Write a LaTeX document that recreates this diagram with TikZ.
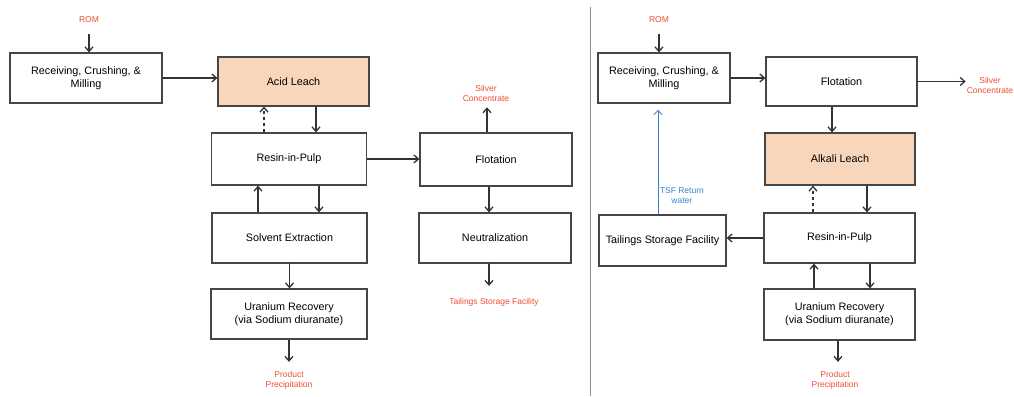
\documentclass[tikz,border=0pt]{standalone}
\usepackage{fontspec}
\setmainfont{Liberation Sans}
\usetikzlibrary{arrows.meta}
\definecolor{leach}{RGB}{248,214,188}
\definecolor{outred}{RGB}{238,78,48}
\definecolor{wblue}{RGB}{58,128,210}
\definecolor{boxline}{RGB}{70,70,70}

\begin{document}
\begin{tikzpicture}[x=1pt,y=-1pt,
  >={Straight Barb[length=4.5pt,width=8pt]},
  blk/.style={draw=boxline,line width=1.3pt,rectangle,align=center,font=\fontsize{10.8}{13}\selectfont},
  outlbl/.style={text=outred,align=center,inner sep=1pt,font=\fontsize{8.5}{10}\selectfont},
  flow/.style={->,line width=1.3pt,draw=black!80}]
\useasboundingbox (0,0) rectangle (1014,396);
% acid leach circuit
\node[outlbl] (rom1) at (89,20) {ROM};
\node[blk,minimum width=152pt,minimum height=50pt] (rcm1) at (86,78) {Receiving, Crushing, \&\\Milling};
\node[blk,fill=leach,minimum width=151pt,minimum height=49pt] (acid) at (293.5,81.5) {Acid Leach};
\node[blk,minimum width=155pt,minimum height=52pt] (rip1) at (289,159) {Resin-in-Pulp};
\node[blk,minimum width=152pt,minimum height=53pt] (flot1) at (496,159.5) {Flotation};
\node[blk,minimum width=155pt,minimum height=50pt] (sx) at (289.5,238) {Solvent Extraction};
\node[blk,minimum width=152pt,minimum height=50pt] (neut) at (495,238) {Neutralization};
\node[blk,minimum width=156pt,minimum height=50pt] (ur1) at (289,314) {Uranium Recovery\\(via Sodium diuranate)};
\node[outlbl] (pp1) at (289,380) {Product\\Precipitation};
\node[outlbl] (tsf1) at (494,302) {Tailings Storage Facility};
\node[outlbl] (sc1) at (486,93) {Silver\\Concentrate};
\draw[flow,shorten <=10pt] (rom1.south) -- (rom1.south |- rcm1.north);
\draw[flow] (rcm1.east) -- (rcm1.east -| acid.west);
\draw[flow,dashed] ([xshift=-25pt]rip1.north) -- ([xshift=-25pt]rip1.north |- acid.south);
\draw[flow] ([xshift=22.5pt]acid.south) -- ([xshift=22.5pt]acid.south |- rip1.north);
\draw[flow] (rip1.east) -- (rip1.east -| flot1.west);
\draw[flow] ([xshift=-31.5pt]sx.north) -- ([xshift=-31.5pt]sx.north |- rip1.south);
\draw[flow] ([xshift=30pt]rip1.south) -- ([xshift=30pt]rip1.south |- sx.north);
\draw[flow] (sx.south) -- (sx.south |- ur1.north);
\draw[flow,shorten >=8pt] (ur1.south) -- (ur1.south |- pp1.north);
\draw[flow,shorten >=5pt] ([xshift=-9pt]flot1.north) -- ([xshift=-9pt]flot1.north |- sc1.south);
\draw[flow] ([xshift=-7pt]flot1.south) -- ([xshift=-7pt]flot1.south |- neut.north);
\draw[flow,shorten >=11pt] ([xshift=-6pt]neut.south) -- ([xshift=-6pt]neut.south |- tsf1.north);
\draw[black!45,line width=1pt] (590,7) -- (590,396);
% alkali leach circuit
\node[outlbl] (rom2) at (659,20) {ROM};
\node[blk,minimum width=132pt,minimum height=50pt] (rcm2) at (664,78) {Receiving, Crushing, \&\\Milling};
\node[blk,minimum width=151pt,minimum height=49pt] (flot2) at (841.5,81.5) {Flotation};
\node[outlbl] (sc2) at (990,85) {Silver\\Concentrate};
\node[blk,fill=leach,minimum width=150pt,minimum height=52pt] (alk) at (840,159) {Alkali Leach};
\node[blk,minimum width=151pt,minimum height=50pt] (rip2) at (839.5,238) {Resin-in-Pulp};
\node[blk,minimum width=127pt,minimum height=51pt] (tsf2) at (662.5,240.5) {Tailings Storage Facility};
\node[blk,minimum width=151pt,minimum height=51pt] (ur2) at (839.5,314.5) {Uranium Recovery\\(via Sodium diuranate)};
\node[outlbl] (pp2) at (835,380) {Product\\Precipitation};
\draw[flow,shorten <=10pt] (rom2.south) -- (rom2.south |- rcm2.north);
\draw[flow] (rcm2.east) -- (rcm2.east -| flot2.west);
\draw[flow] (flot2.east) -- (flot2.east -| sc2.west);
\draw[flow] ([xshift=-9.5pt]flot2.south) -- ([xshift=-9.5pt]flot2.south |- alk.north);
\draw[flow,dashed] ([xshift=-26.5pt]rip2.north) -- ([xshift=-26.5pt]rip2.north |- alk.south);
\draw[flow] ([xshift=27pt]alk.south) -- ([xshift=27pt]alk.south |- rip2.north);
\draw[flow] (rip2.west) -- (rip2.west -| tsf2.east);
\draw[flow] ([xshift=-25.5pt]ur2.north) -- ([xshift=-25.5pt]ur2.north |- rip2.south);
\draw[flow] ([xshift=30.5pt]rip2.south) -- ([xshift=30.5pt]rip2.south |- ur2.north);
\draw[flow,shorten >=8pt] ([xshift=-1.5pt]ur2.south) -- ([xshift=-1.5pt]ur2.south |- pp2.north);
\draw[flow,draw=wblue,line width=0.8pt,shorten >=6pt] ([xshift=-4.5pt]tsf2.north) -- ([xshift=-4.5pt]tsf2.north |- rcm2.south)
  node[pos=0.17,right,inner sep=1.5pt,text=wblue,align=center,font=\fontsize{8.5}{10}\selectfont] (retw) {TSF Return\\water};
\end{tikzpicture}
\end{document}
